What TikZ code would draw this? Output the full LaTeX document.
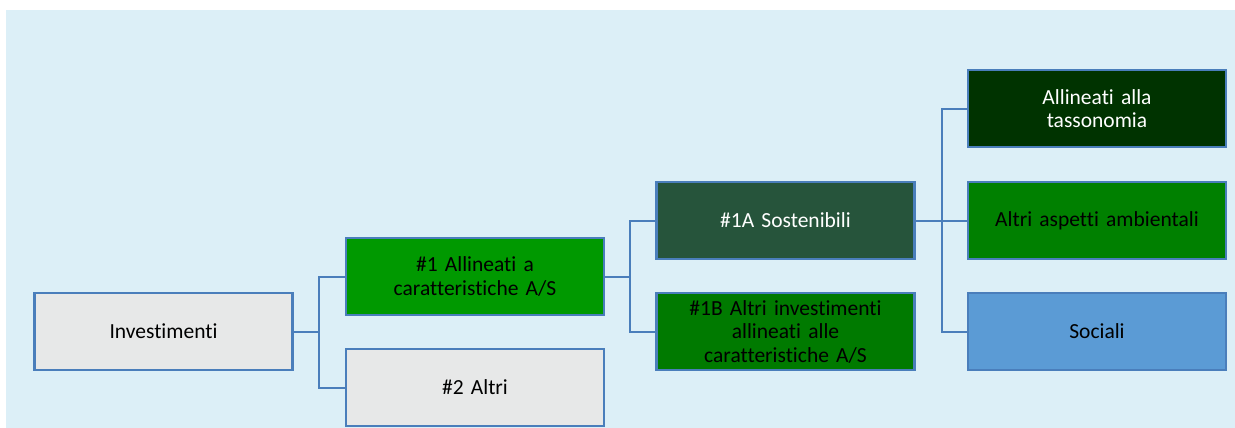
\documentclass[tikz,border=0pt]{standalone}
\usepackage{fontspec}
\setmainfont[Ligatures=NoCommon]{Carlito}
\usetikzlibrary{positioning}
\definecolor{bgblue}{RGB}{220,239,247}
\definecolor{edgeblue}{RGB}{74,126,187}
\definecolor{boxgray}{RGB}{231,232,232}
\definecolor{greenA}{RGB}{0,153,0}
\definecolor{greenS}{RGB}{38,84,59}
\definecolor{greenB}{RGB}{0,122,0}
\definecolor{greenAmb}{RGB}{0,128,0}
\definecolor{greenTax}{RGB}{0,51,0}
\definecolor{blueSoc}{RGB}{91,155,213}
\tikzset{
  font={\fontsize{21.5pt}{23.5pt}\selectfont}}

\begin{document}
\begin{tikzpicture}[x=1pt,y=-1pt,
    block_base/.style ={rectangle, draw=edgeblue, line width=2.2pt,
      text width=240pt, align=center, minimum width=258pt, minimum height=77pt, inner sep=0pt},
    block_gray/.style ={block_base, fill=boxgray, text=black},
    block_green/.style ={block_base, fill=greenA, text=black},
    block_sust/.style ={block_base, fill=greenS, text=white},
    block_other/.style ={block_base, fill=greenB, text=black},
    block_env/.style ={block_base, fill=greenAmb, text=black},
    block_tax/.style ={block_base, fill=greenTax, text=white},
    block_soc/.style ={block_base, fill=blueSoc, text=black},
    paths2/.style={draw=edgeblue, line width=2pt}]
    % background panel and page size
    \useasboundingbox (0,0) rectangle (1235,428);
    \fill[bgblue] (6,10) rectangle (1235,428);
    % column 1
    \node[block_gray] (inv) at (163.5,331.5) {Investimenti};
    % column 2
    \node[block_green] (all1) at (475,276.5) {\#1 Allineati a\\caratteristiche A/S};
    \node[block_gray] (oth2) at (475,387.5) {\#2 Altri};
    % column 3
    \node[block_sust] (sost1A) at (785.5,220.5) {\#1A Sostenibili};
    \node[block_other] (oth1B) at (785.5,331.5) {\#1B Altri investimenti\\allineati alle\\caratteristiche A/S};
    % column 4
    \node[block_tax] (tax) at (1097,108.5) {Allineati alla\\tassonomia};
    \node[block_env] (env) at (1097,220.5) {Altri aspetti ambientali};
    \node[block_soc] (soc) at (1097,331.5) {Sociali};
    % connecting nodes with paths
    \begin{scope}[every path/.style=paths2]
      \path (inv.east) -- ++(25,0) |- (all1.west);
      \path (inv.east) -- ++(25,0) |- (oth2.west);
      \path (all1.east) -- ++(25,0) |- (sost1A.west);
      \path (all1.east) -- ++(25,0) |- (oth1B.west);
      \path (sost1A.east) -- ++(26,0) |- (tax.west);
      \path (sost1A.east) -- ++(26,0) |- (env.west);
      \path (sost1A.east) -- ++(26,0) |- (soc.west);
    \end{scope}
  \end{tikzpicture}
\end{document}
